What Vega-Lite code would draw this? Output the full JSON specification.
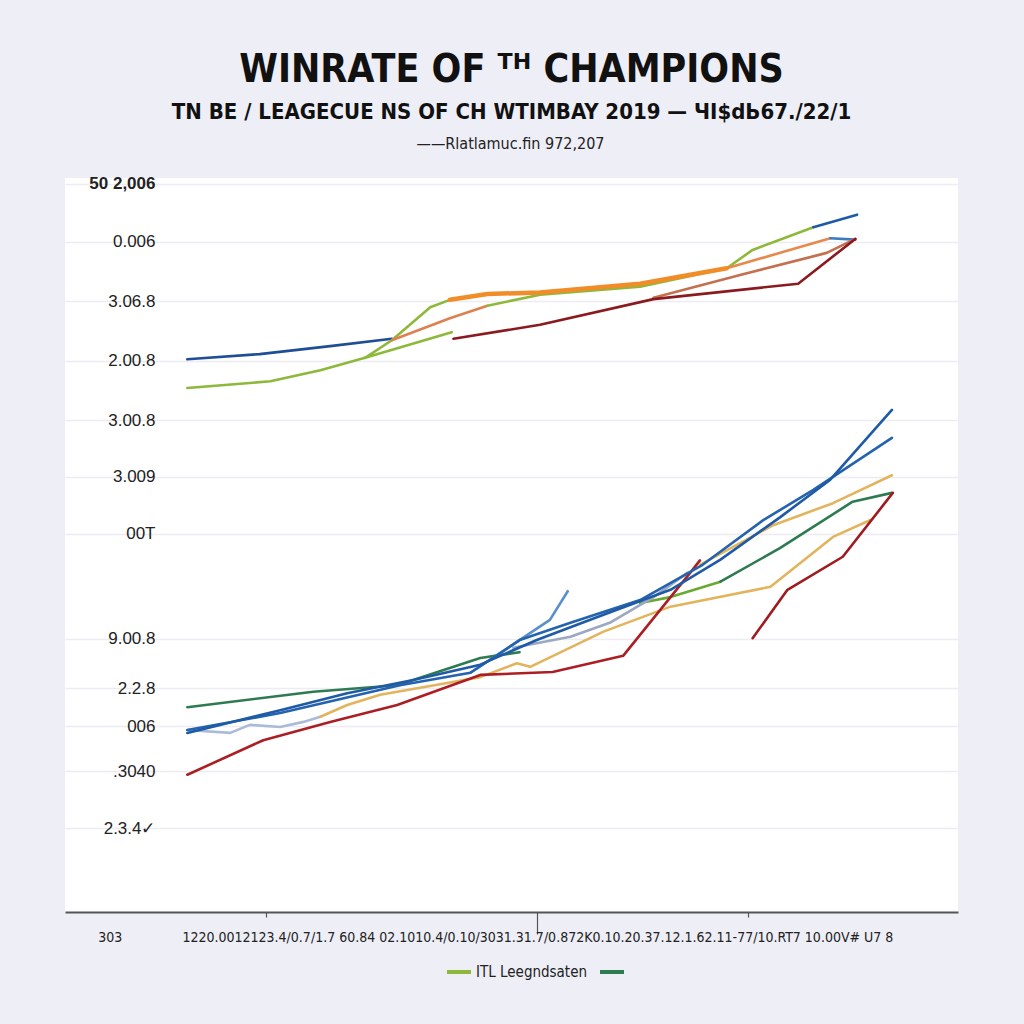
{
  "$schema": "https://vega.github.io/schema/vega-lite/v6.json",
  "width": 893,
  "height": 734,
  "autosize": {"type": "none"},
  "padding": {"left": 65, "top": 178, "right": 66, "bottom": 112},
  "background": "#eeeef7",
  "config": {"view": {"fill": "white", "stroke": null}, "font": "Liberation Sans"},
  "title": {
    "text": "WINRATE OF ᵀᴴ CHAMPIONS",
    "subtitle": "TN BE / LEAGECUE NS OF CH WTIMBAY 2019  —   ЧI$dЬ67./22/1",
    "anchor": "middle",
    "font": "Liberation Sans Narrow, DejaVu Sans Condensed, sans-serif",
    "fontSize": 39,
    "fontWeight": "bold",
    "color": "#111111",
    "subtitleFont": "Liberation Sans Narrow, DejaVu Sans Condensed, sans-serif",
    "subtitleFontSize": 22,
    "subtitleFontWeight": "bold",
    "subtitleColor": "#111111",
    "subtitlePadding": 12,
    "offset": 12
  },
  "data": {"values": [
    {"s": "s01", "x": 13.7, "y": 75.3}, {"s": "s01", "x": 21.8, "y": 76.0}, {"s": "s01", "x": 29.7, "y": 77.1}, {"s": "s01", "x": 36.6, "y": 78.1},
    {"s": "ITL Leegndsaten", "x": 13.7, "y": 71.4}, {"s": "ITL Leegndsaten", "x": 23.0, "y": 72.3}, {"s": "ITL Leegndsaten", "x": 28.6, "y": 73.8}, {"s": "ITL Leegndsaten", "x": 33.6, "y": 75.5}, {"s": "ITL Leegndsaten", "x": 43.3, "y": 79.0},
    {"s": "s02", "x": 33.6, "y": 75.5}, {"s": "s02", "x": 36.6, "y": 77.9}, {"s": "s02", "x": 40.9, "y": 82.4}, {"s": "s02", "x": 43.1, "y": 83.4},
    {"s": "s03", "x": 36.6, "y": 77.9}, {"s": "s03", "x": 43.1, "y": 80.9}, {"s": "s03", "x": 47.3, "y": 82.6},
    {"s": "s05", "x": 47.3, "y": 82.6}, {"s": "s05", "x": 53.2, "y": 84.1}, {"s": "s05", "x": 64.4, "y": 85.2}, {"s": "s05", "x": 74.1, "y": 87.7}, {"s": "s05", "x": 77.0, "y": 90.2}, {"s": "s05", "x": 83.8, "y": 93.3},
    {"s": "s04", "x": 43.1, "y": 83.4}, {"s": "s04", "x": 47.3, "y": 84.2}, {"s": "s04", "x": 53.2, "y": 84.4}, {"s": "s04", "x": 64.4, "y": 85.6}, {"s": "s04", "x": 74.1, "y": 87.7},
    {"s": "s06", "x": 83.8, "y": 93.3}, {"s": "s06", "x": 88.7, "y": 95.0},
    {"s": "s07", "x": 74.1, "y": 87.7}, {"s": "s07", "x": 85.7, "y": 91.8},
    {"s": "s08", "x": 85.7, "y": 91.8}, {"s": "s08", "x": 88.5, "y": 91.6},
    {"s": "s09", "x": 65.9, "y": 83.7}, {"s": "s09", "x": 75.6, "y": 86.8}, {"s": "s09", "x": 85.3, "y": 89.8}, {"s": "s09", "x": 88.5, "y": 91.7},
    {"s": "s10", "x": 43.5, "y": 78.1}, {"s": "s10", "x": 53.2, "y": 80.0}, {"s": "s10", "x": 65.9, "y": 83.5}, {"s": "s10", "x": 82.1, "y": 85.6}, {"s": "s10", "x": 88.5, "y": 91.7},
    {"s": " ", "x": 13.7, "y": 27.9}, {"s": " ", "x": 27.8, "y": 30.0}, {"s": " ", "x": 37.2, "y": 30.9}, {"s": " ", "x": 46.5, "y": 34.6}, {"s": " ", "x": 50.9, "y": 35.4},
    {"s": "s11", "x": 64.4, "y": 42.1}, {"s": "s11", "x": 67.8, "y": 42.9}, {"s": "s11", "x": 73.4, "y": 45.0},
    {"s": "s12", "x": 73.4, "y": 45.0}, {"s": "s12", "x": 80.1, "y": 49.6}, {"s": "s12", "x": 88.2, "y": 55.9}, {"s": "s12", "x": 92.6, "y": 57.1},
    {"s": "s16", "x": 13.7, "y": 24.8}, {"s": "s16", "x": 18.5, "y": 24.4}, {"s": "s16", "x": 20.7, "y": 25.5}, {"s": "s16", "x": 24.1, "y": 25.2}, {"s": "s16", "x": 26.7, "y": 25.9}, {"s": "s16", "x": 28.6, "y": 26.6},
    {"s": "s18", "x": 50.2, "y": 36.0}, {"s": "s18", "x": 56.6, "y": 37.5}, {"s": "s18", "x": 61.0, "y": 39.4}, {"s": "s18", "x": 65.9, "y": 42.9}, {"s": "s18", "x": 69.7, "y": 46.2},
    {"s": "s17", "x": 28.6, "y": 26.6}, {"s": "s17", "x": 31.6, "y": 28.2}, {"s": "s17", "x": 35.3, "y": 29.6}, {"s": "s17", "x": 42.8, "y": 31.2}, {"s": "s17", "x": 46.5, "y": 32.0}, {"s": "s17", "x": 50.6, "y": 33.9}, {"s": "s17", "x": 52.1, "y": 33.4}, {"s": "s17", "x": 60.3, "y": 38.2}, {"s": "s17", "x": 67.8, "y": 41.6}, {"s": "s17", "x": 79.0, "y": 44.3}, {"s": "s17", "x": 86.0, "y": 51.1}, {"s": "s17", "x": 90.2, "y": 53.4},
    {"s": "s19", "x": 71.1, "y": 47.3}, {"s": "s19", "x": 79.3, "y": 52.7}, {"s": "s19", "x": 86.0, "y": 55.7}, {"s": "s19", "x": 92.6, "y": 59.5},
    {"s": "s20", "x": 13.7, "y": 18.7}, {"s": "s20", "x": 22.2, "y": 23.4}, {"s": "s20", "x": 29.7, "y": 25.9}, {"s": "s20", "x": 37.2, "y": 28.2}, {"s": "s20", "x": 46.5, "y": 32.3}, {"s": "s20", "x": 54.6, "y": 32.7}, {"s": "s20", "x": 62.5, "y": 34.9}, {"s": "s20", "x": 70.0, "y": 46.2}, {"s": "s20", "x": 71.1, "y": 47.9},
    {"s": "s21", "x": 77.0, "y": 37.3}, {"s": "s21", "x": 80.9, "y": 43.9}, {"s": "s21", "x": 87.1, "y": 48.4}, {"s": "s21", "x": 92.7, "y": 57.1},
    {"s": "s15", "x": 45.4, "y": 32.6}, {"s": "s15", "x": 50.6, "y": 36.8}, {"s": "s15", "x": 54.3, "y": 39.8}, {"s": "s15", "x": 56.3, "y": 43.7},
    {"s": "s14", "x": 13.7, "y": 24.8}, {"s": "s14", "x": 24.1, "y": 27.1}, {"s": "s14", "x": 37.5, "y": 30.9}, {"s": "s14", "x": 45.4, "y": 32.6}, {"s": "s14", "x": 51.0, "y": 37.1}, {"s": "s14", "x": 56.6, "y": 39.4}, {"s": "s14", "x": 64.4, "y": 42.5}, {"s": "s14", "x": 71.4, "y": 47.3}, {"s": "s14", "x": 78.2, "y": 53.4}, {"s": "s14", "x": 83.8, "y": 57.5}, {"s": "s14", "x": 92.6, "y": 64.6},
    {"s": "s13", "x": 13.7, "y": 24.4}, {"s": "s13", "x": 24.1, "y": 27.5}, {"s": "s13", "x": 31.6, "y": 29.8}, {"s": "s13", "x": 39.0, "y": 31.6}, {"s": "s13", "x": 46.5, "y": 33.7}, {"s": "s13", "x": 52.9, "y": 37.1}, {"s": "s13", "x": 60.3, "y": 40.5}, {"s": "s13", "x": 67.8, "y": 43.9}, {"s": "s13", "x": 73.4, "y": 48.0}, {"s": "s13", "x": 80.1, "y": 53.8}, {"s": "s13", "x": 85.7, "y": 58.9}, {"s": "s13", "x": 92.6, "y": 68.4}
  ]},
  "encoding": {
    "x": {
      "field": "x", "type": "quantitative",
      "scale": {"domain": [0, 100], "nice": false, "zero": false},
      "axis": {
        "orient": "bottom",
        "title": null,
        "grid": false,
        "values": [5, 22.5, 52.9, 76.5],
        "labelExpr": "datum.value == 5 ? '303' : datum.value == 52.9 ? '1220.0012123.4/0.7/1.7 60.84 02.1010.4/0.10/3031.31.7/0.872K0.10.20.37.12.1.62.11-77/10.RT7 10.00V# U7 8' : ''",
        "labelFont": "Liberation Sans Narrow, DejaVu Sans Condensed, sans-serif",
        "labelFontSize": 14,
        "labelColor": "#222222",
        "labelLimit": 2000,
        "labelOverlap": false,
        "labelFlush": false,
        "labelBound": false,
        "labelPadding": -4,
        "domainColor": "#555555",
        "domainWidth": 2,
        "tickColor": "#555555",
        "tickWidth": 1.2,
        "tickSize": 22,
        "tickDash": {"condition": {"test": "datum.value == 52.9", "value": []}, "value": [5, 60]},
        "tickOpacity": {"condition": {"test": "datum.value == 5", "value": 0}, "value": 1}
      }
    },
    "y": {
      "field": "y", "type": "quantitative",
      "scale": {"domain": [0, 100], "nice": false, "zero": false},
      "axis": {
        "title": "——Rlatlamuc.fin 972,207",
        "titleAngle": 0,
        "titleX": 445,
        "titleY": -35,
        "titleAlign": "center",
        "titleBaseline": "middle",
        "titleFont": "Liberation Sans Narrow, DejaVu Sans Condensed, sans-serif",
        "titleFontSize": 16,
        "titleFontWeight": "normal",
        "titleColor": "#222222",
        "values": [99.2, 91.3, 83.2, 75.1, 67.0, 59.3, 51.5, 37.2, 30.5, 25.3, 19.2, 11.4],
        "labelExpr": "datum.value == 99.2 ? '50 2,006' : datum.value == 91.3 ? '0.006' : datum.value == 83.2 ? '3.06.8' : datum.value == 75.1 ? '2.00.8' : datum.value == 67 ? '3.00.8' : datum.value == 59.3 ? '3.009' : datum.value == 51.5 ? '00T' : datum.value == 37.2 ? '9.00.8' : datum.value == 30.5 ? '2.2.8' : datum.value == 25.3 ? '006' : datum.value == 19.2 ? '.3040' : '2.3.4✓'",
        "labelFontSize": 17,
        "labelColor": "#222222",
        "labelFontWeight": {"condition": {"test": "datum.value == 99.2", "value": "bold"}, "value": "normal"},
        "labelPadding": -90,
        "labelBound": false,
        "labelOverlap": false,
        "labelFlush": false,
        "ticks": false,
        "tickSize": 0,
        "domain": false,
        "grid": true,
        "gridColor": "#ececf2",
        "gridWidth": 1.5
      }
    }
  },
  "layer": [
    {
      "mark": {"type": "line", "strokeWidth": 2.6, "strokeCap": "round", "strokeJoin": "round"},
      "encoding": {
        "color": {
          "field": "s", "type": "nominal",
          "scale": {
            "domain": ["ITL Leegndsaten", " ", "s01", "s02", "s03", "s04", "s05", "s06", "s07", "s08", "s09", "s10", "s11", "s12", "s13", "s14", "s15", "s16", "s17", "s18", "s19", "s20", "s21"],
            "range": ["#8db83a", "#2e7b52", "#1f4e96", "#8db83a", "#dd8150", "#f28c28", "#8db83a", "#1f5aa6", "#e8884a", "#3a7cc4", "#c4704e", "#8b1a1f", "#6aa832", "#2e7b52", "#1f5aa6", "#2463ad", "#5b8fcc", "#aabbd8", "#e2b45e", "#9aa8c4", "#e2b45e", "#ab1f24", "#9e1b20"]
          },
          "legend": {
            "values": ["ITL Leegndsaten", " "],
            "title": null,
            "orient": "none",
            "legendX": 380,
            "legendY": 780,
            "direction": "horizontal",
            "symbolType": "stroke",
            "symbolSize": 576,
            "symbolStrokeWidth": 4,
            "labelFont": "Liberation Sans Narrow, DejaVu Sans Condensed, sans-serif",
            "labelFontSize": 15,
            "labelColor": "#222222",
            "labelOffset": 3,
            "columnPadding": 4
          }
        }
      }
    },
    {
      "transform": [{"filter": "datum.s == 's04'"}],
      "mark": {"type": "line", "strokeWidth": 4.5, "strokeCap": "round", "strokeJoin": "round", "color": "#f28c28"},
      "encoding": {}
    }
  ]
}
